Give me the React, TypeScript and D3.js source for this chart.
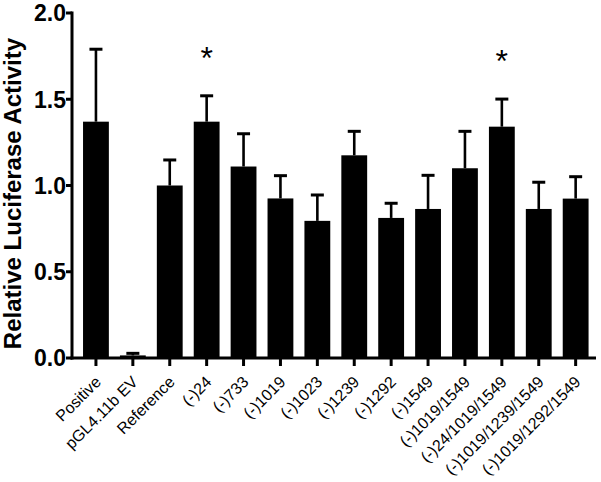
import React from "react";
import * as d3 from "d3";

const categories = [
  "Positive",
  "pGL4.11b EV",
  "Reference",
  "(-)24",
  "(-)733",
  "(-)1019",
  "(-)1023",
  "(-)1239",
  "(-)1292",
  "(-)1549",
  "(-)1019/1549",
  "(-)24/1019/1549",
  "(-)1019/1239/1549",
  "(-)1019/1292/1549",
];
const means = [1.37, 0.015, 1.0, 1.37, 1.11, 0.925, 0.795, 1.175, 0.812, 0.864, 1.1, 1.341, 0.864, 0.924];
const errors = [0.42, 0.012, 0.148, 0.15, 0.19, 0.132, 0.15, 0.139, 0.085, 0.195, 0.214, 0.16, 0.155, 0.127];
const significant = ["(-)24", "(-)24/1019/1549"];
const yTicks = [0, 0.5, 1.0, 1.5, 2.0];
const yLabel = "Relative Luciferase Activity";

const W = 601;
const H = 482;
const FONT = "'Liberation Sans', Arial, Helvetica, sans-serif";

export default function App() {
  const y = d3.scaleLinear().domain([0, 2]).range([358, 13]);
  const x = d3
    .scaleBand<string>()
    .domain(categories)
    .range([77.5, 594.1])
    .paddingInner(0.3)
    .paddingOuter(0.15);
  const bw = x.bandwidth();
  const axisX0 = 72;
  const axisX1 = 596;
  const capW = 13;

  return (
    <svg
      width={W}
      height={H}
      style={{ position: "absolute", left: 0, top: 0, background: "#fff" }}
    >
      <rect x={0} y={0} width={W} height={H} fill="#fff" />
      {/* bars */}
      {categories.map((c, i) => {
        const cx = (x(c) as number) + bw / 2;
        const top = y(means[i]);
        const et = y(means[i] + errors[i]);
        return (
          <g key={c}>
            <line x1={cx} x2={cx} y1={top} y2={et} stroke="#000" strokeWidth={2.6} />
            <line x1={cx - capW / 2} x2={cx + capW / 2} y1={et} y2={et} stroke="#000" strokeWidth={3} />
            <rect x={x(c)} y={top} width={bw} height={y(0) - top} fill="#000" />
            {significant.includes(c) && (
              <text
                x={cx}
                y={et - 42 + 15}
                textAnchor="middle"
                fontFamily={FONT}
                fontSize={32}
                fill="#000"
              >
                *
              </text>
            )}
          </g>
        );
      })}
      {/* y axis */}
      <line x1={axisX0} x2={axisX0} y1={y(2) - 1.5} y2={y(0) + 1.5} stroke="#000" strokeWidth={3} />
      {yTicks.map((t) => (
        <g key={t}>
          <line x1={axisX0 - 6} x2={axisX0} y1={y(t)} y2={y(t)} stroke="#000" strokeWidth={3} />
          <text
            x={axisX0 - 6}
            y={y(t)}
            dy="0.36em"
            textAnchor="end"
            fontFamily={FONT}
            fontWeight="bold"
            fontSize={23}
            fill="#000"
          >
            {d3.format(".1f")(t)}
          </text>
        </g>
      ))}
      <text
        transform={`translate(21, ${(y(0) + y(2)) / 2 + 8}) rotate(-90)`}
        textAnchor="middle"
        fontFamily={FONT}
        fontWeight="bold"
        fontSize={24}
        fill="#000"
      >
        {yLabel}
      </text>
      {/* x axis */}
      <line x1={axisX0 - 1.5} x2={axisX1} y1={y(0)} y2={y(0)} stroke="#000" strokeWidth={3} />
      {categories.map((c) => {
        const cx = (x(c) as number) + bw / 2;
        return (
          <g key={"t" + c}>
            <line x1={cx} x2={cx} y1={y(0)} y2={y(0) + 8} stroke="#000" strokeWidth={3} />
            <text
              transform={`translate(${cx + 6}, ${y(0) + 25}) rotate(-45)`}
              textAnchor="end"
              fontFamily={FONT}
              fontSize={16}
              fill="#000"
            >
              {c}
            </text>
          </g>
        );
      })}
    </svg>
  );
}
